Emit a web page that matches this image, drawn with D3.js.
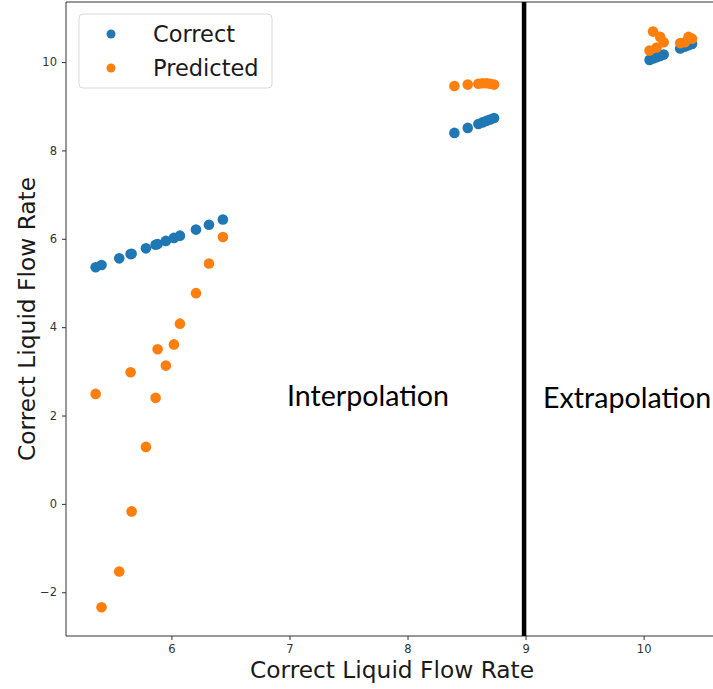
<!DOCTYPE html>
<html>
<head>
<meta charset="utf-8">
<script src="https://cdn.jsdelivr.net/npm/d3@7"></script>
<style>
  body { margin: 0; background: #fff; }
  svg { display: block; }
  .tick text { font-family: "DejaVu Sans", sans-serif; font-size: 11.5px; fill: #333; }
  .axis-label { font-family: "DejaVu Sans", sans-serif; font-size: 23.3px; fill: #1a1a1a; }
  .region-label { font-family: Lato, "Open Sans", sans-serif; font-size: 28.6px; fill: #000; }
  .legend-text { font-family: "DejaVu Sans", sans-serif; font-size: 22.5px; fill: #1a1a1a; }
</style>
</head>
<body>
<div id="chart"></div>
<script>
// Correct values (x) and the matching y for each series
const correctX = [5.358, 5.408, 5.558, 5.654, 5.663, 5.784, 5.866, 5.883, 5.953, 6.021, 6.072, 6.208, 6.318, 6.436,
  8.397, 8.51, 8.60, 8.635, 8.67, 8.70, 8.733,
  10.05, 10.08, 10.11, 10.14, 10.17, 10.31, 10.35, 10.38, 10.41];
const correctY = [5.358, 5.408, 5.558, 5.654, 5.663, 5.784, 5.866, 5.883, 5.953, 6.021, 6.072, 6.208, 6.318, 6.436,
  8.397, 8.51, 8.60, 8.635, 8.67, 8.70, 8.733,
  10.05, 10.08, 10.11, 10.14, 10.17, 10.31, 10.35, 10.38, 10.41];
const predictedY = [2.49, -2.34, -1.53, 2.98, -0.17, 1.29, 2.40, 3.50, 3.13, 3.61, 4.08, 4.77, 5.44, 6.04,
  9.46, 9.49, 9.51, 9.52, 9.52, 9.51, 9.49,
  10.26, 10.69, 10.33, 10.57, 10.45, 10.43, 10.45, 10.57, 10.53];

const xTicks = [6, 7, 8, 9, 10];
const yTicks = [-2, 0, 2, 4, 6, 8, 10];
const xDomain = [5.107, 10.63];
const yDomain = [-2.99, 11.36];
const boundaryX = 9;

const width = 713, height = 689;
const margin = { left: 66, top: 2, right: -5, bottom: 53 };

const svg = d3.select("#chart").append("svg")
  .attr("width", width)
  .attr("height", height);

const x = d3.scaleLinear().domain(xDomain).range([margin.left, width - margin.right]);
const y = d3.scaleLinear().domain(yDomain).range([height - margin.bottom, margin.top]);

// Axes
const xAxis = svg.append("g")
  .attr("transform", `translate(0,${height - margin.bottom})`)
  .call(d3.axisBottom(x).tickValues(xTicks).tickSize(4).tickPadding(5).tickFormat(d3.format("d")));
const yAxis = svg.append("g")
  .attr("transform", `translate(${margin.left},0)`)
  .call(d3.axisLeft(y).tickValues(yTicks).tickSize(4).tickPadding(5)
    .tickFormat(d => d < 0 ? "\u2212" + Math.abs(d) : d));
[xAxis, yAxis].forEach(a => {
  a.select(".domain").remove();
  a.selectAll(".tick line").attr("stroke", "#333");
});

// Frame (top, left, bottom spines; the right one is off the picture)
svg.append("path")
  .attr("d", `M${width + 10},${y.range()[1]}H${margin.left}V${y.range()[0]}H${width + 10}`)
  .attr("fill", "none")
  .attr("stroke", "#333")
  .attr("stroke-width", 1);

// Points
const pts = correctX.map((cx, i) => ({ x: cx, yc: correctY[i], yp: predictedY[i] }));
const dotR = 5.3;

svg.append("g").selectAll("circle")
  .data(pts)
  .enter().append("circle")
  .attr("cx", d => x(d.x))
  .attr("cy", d => y(d.yc))
  .attr("r", dotR)
  .style("fill", "#1f77b4");

svg.append("g").selectAll("circle")
  .data(pts)
  .enter().append("circle")
  .attr("cx", d => x(d.x))
  .attr("cy", d => y(d.yp))
  .attr("r", dotR)
  .style("fill", "#ff7f0e");

// Boundary between interpolation and extrapolation
svg.append("line")
  .attr("x1", x(boundaryX) - 1.5).attr("x2", x(boundaryX) - 1.5)
  .attr("y1", y.range()[1]).attr("y2", y.range()[0])
  .attr("stroke", "#000")
  .attr("stroke-width", 4.5);

svg.append("text").attr("class", "region-label")
  .attr("x", 287).attr("y", 406).text("Interpolation");
svg.append("text").attr("class", "region-label")
  .attr("x", 543).attr("y", 408).text("Extrapolation");

// Axis labels
svg.append("text").attr("class", "axis-label")
  .attr("x", 392).attr("y", 678)
  .attr("text-anchor", "middle")
  .text("Correct Liquid Flow Rate");
svg.append("text").attr("class", "axis-label")
  .attr("transform", `translate(35,${(y.range()[0] + y.range()[1]) / 2}) rotate(-90)`)
  .attr("text-anchor", "middle")
  .text("Correct Liquid Flow Rate");

// Legend
const legendItems = [
  { label: "Correct", color: "#1f77b4" },
  { label: "Predicted", color: "#ff7f0e" }
];
const legend = svg.append("g").attr("transform", "translate(79,14)");
legend.append("rect")
  .attr("width", 193).attr("height", 74)
  .attr("rx", 4)
  .attr("fill", "#fff").attr("fill-opacity", 0.8)
  .attr("stroke", "#d9d9d9");
legendItems.forEach((d, i) => {
  legend.append("circle")
    .attr("cx", 32).attr("cy", 20 + i * 34)
    .attr("r", 4.5)
    .style("fill", d.color);
  legend.append("text").attr("class", "legend-text")
    .attr("x", 74).attr("y", 28 + i * 34)
    .text(d.label);
});
</script>
</body>
</html>
